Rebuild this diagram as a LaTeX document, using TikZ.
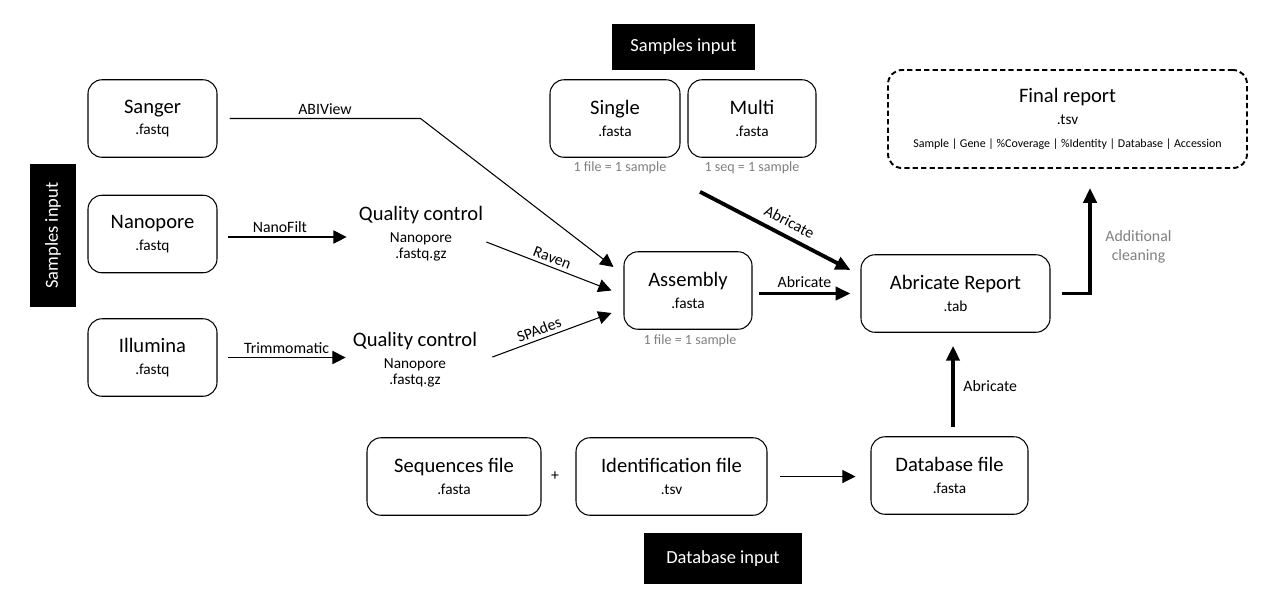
\documentclass[tikz,border=0pt]{standalone}
\usepackage{fontspec}
\setmainfont{Carlito}
\usetikzlibrary{calc,positioning,arrows.meta}

\newcommand\ttl{\fontsize{11.7}{14}\selectfont}

\begin{document}
\begin{tikzpicture}[
    box/.style={draw,rounded corners=0.28cm,line width=0.6pt,minimum width=2.58cm,minimum height=1.55cm,align=center,font=\fontsize{8.7}{10.4}\selectfont},
    blackbox/.style={fill=black,text=white,minimum width=2.86cm,minimum height=0.92cm,font=\fontsize{10.5}{12}\selectfont},
    qc/.style={align=center,inner sep=0pt,font=\fontsize{8.7}{10.4}\selectfont},
    note/.style={text=black!50,font=\fontsize{8}{9.6}\selectfont},
    lbl/.style={font=\fontsize{9}{10.8}\selectfont,inner sep=2pt},
    thinline/.style={line width=0.6pt,-{Triangle[length=7.5pt,width=7.5pt]}},
    thickline/.style={line width=2.2pt,-{Triangle[length=8.5pt,width=7.5pt]}},
  ]

  \useasboundingbox (0,0) rectangle (25.5,-12.14);

  % samples input (reads)

  \node (samplesl) at (1.06,-4.71) [blackbox,rotate=90] {Samples input};

  \node (sanger) at (3.05,-2.37) [box] {{\ttl Sanger}\\[2pt].fastq};
  \node (nano) at (3.05,-4.68) [box] {{\ttl Nanopore}\\[2pt].fastq};
  \node (illu) at (3.05,-7.15) [box] {{\ttl Illumina}\\[2pt].fastq};

  \node (qcnano) at (8.42,-4.68) [qc] {{\ttl Quality control}\\[2pt]Nanopore\\[-1pt].fastq.gz};
  \node (qcillu) at (8.30,-7.20) [qc] {{\ttl Quality control}\\[2pt]Nanopore\\[-1pt].fastq.gz};

  % samples input (fasta)

  \node (samplest) at (13.67,-0.94) [blackbox] {Samples input};

  \node (single) at (12.30,-2.37) [box,minimum width=2.6cm] {{\ttl Single}\\[2pt].fasta};
  \node (multi) at (15.04,-2.37) [box,minimum width=2.56cm] {{\ttl Multi}\\[2pt].fasta};
  \node (singlenote) at (12.40,-3.36) [note] {1 file = 1 sample};
  \node (multinote) at (15.04,-3.36) [note] {1 seq = 1 sample};

  \node (assembly) at (13.76,-5.81) [box,minimum width=2.56cm] {{\ttl Assembly}\\[2pt].fasta};
  \node (asmnote) at (13.80,-6.82) [note] {1 file = 1 sample};

  % reports

  \node (report) at (19.11,-5.87) [box,minimum width=3.78cm] {{\ttl Abricate Report}\\[2pt].tab};
  \node (final) at (21.35,-2.38) [box,dash pattern=on 3pt off 1.8pt,line width=1.1pt,minimum width=7.18cm,minimum height=1.96cm]
    {{\ttl Final report}\\[2pt].tsv\\[2.6pt]{\fontsize{6.8}{8}\selectfont Sample | Gene | \%Coverage | \%Identity | Database | Accession}};

  % database input

  \node (seqs) at (9.08,-9.53) [box,minimum width=3.48cm] {{\ttl Sequences file}\\[2pt].fasta};
  \node (plus) at (11.10,-9.52) [lbl] {+};
  \node (ident) at (13.43,-9.53) [box,minimum width=3.82cm] {{\ttl Identification file}\\[2pt].tsv};
  \node (dbfile) at (18.99,-9.51) [box,minimum width=3.14cm] {{\ttl Database file}\\[2pt].fasta};

  \node (dbin) at (14.46,-11.17) [blackbox,minimum width=3.16cm,minimum height=1.02cm] {Database input};

  % reads to assembly

  \draw[thinline] ($(sanger.east)+(0.24,0)$) -- node[lbl,above] {ABIView} ($(sanger.east)+(4.06,0)$) -- ($(assembly.west)+(-0.2,0.47)$);

  \draw[thinline] ($(nano.east)+(0.2,-0.06)$) -- node[lbl,above,pos=0.44] {NanoFilt} ($(qcnano.west)+(-0.24,-0.06)$);
  \draw[thinline] ($(illu.east)+(0.2,0)$) -- node[lbl,above] {Trimmomatic} ($(qcillu.west |- illu.east)+(-0.14,0)$);

  \draw[thinline] ($(qcnano.east)+(0.06,-0.16)$) -- node[lbl,above,sloped] {Raven} ($(assembly.west)+(-0.24,0)$);
  \draw[thinline] ($(qcillu.east)+(0.3,0.06)$) -- node[lbl,above,sloped,pos=0.42] {SPAdes} ($(assembly.west)+(-0.24,-0.45)$);

  % abricate

  \draw[thickline] ($(single.south)+(1.7,-0.68)$) -- node[lbl,above=2pt,sloped,pos=0.55] {Abricate} ($(report.west)+(-0.2,0.47)$);
  \draw[thickline] ($(assembly.east |- report.west)+(0.12,0)$) -- node[lbl,above] {Abricate} ($(report.west)+(-0.2,0)$);
  \draw[thickline] ($(report.south |- dbfile.north)+(-0.05,0.18)$) -- node[lbl,right=0.1cm] {Abricate} ($(report.south)+(-0.05,-0.26)$);

  \draw[thinline] ($(ident.east)+(0.24,0)$) -- ($(dbfile.west |- ident.east)+(-0.3,0)$);

  % final report

  \draw[thickline] ($(report.east)+(0.22,0)$) -| node[lbl,pos=0.72,right=0.2cm,align=center,text=black!50] {Additional\\cleaning} ($(final.south)+(0.45,-0.38)$);

\end{tikzpicture}
\end{document}
